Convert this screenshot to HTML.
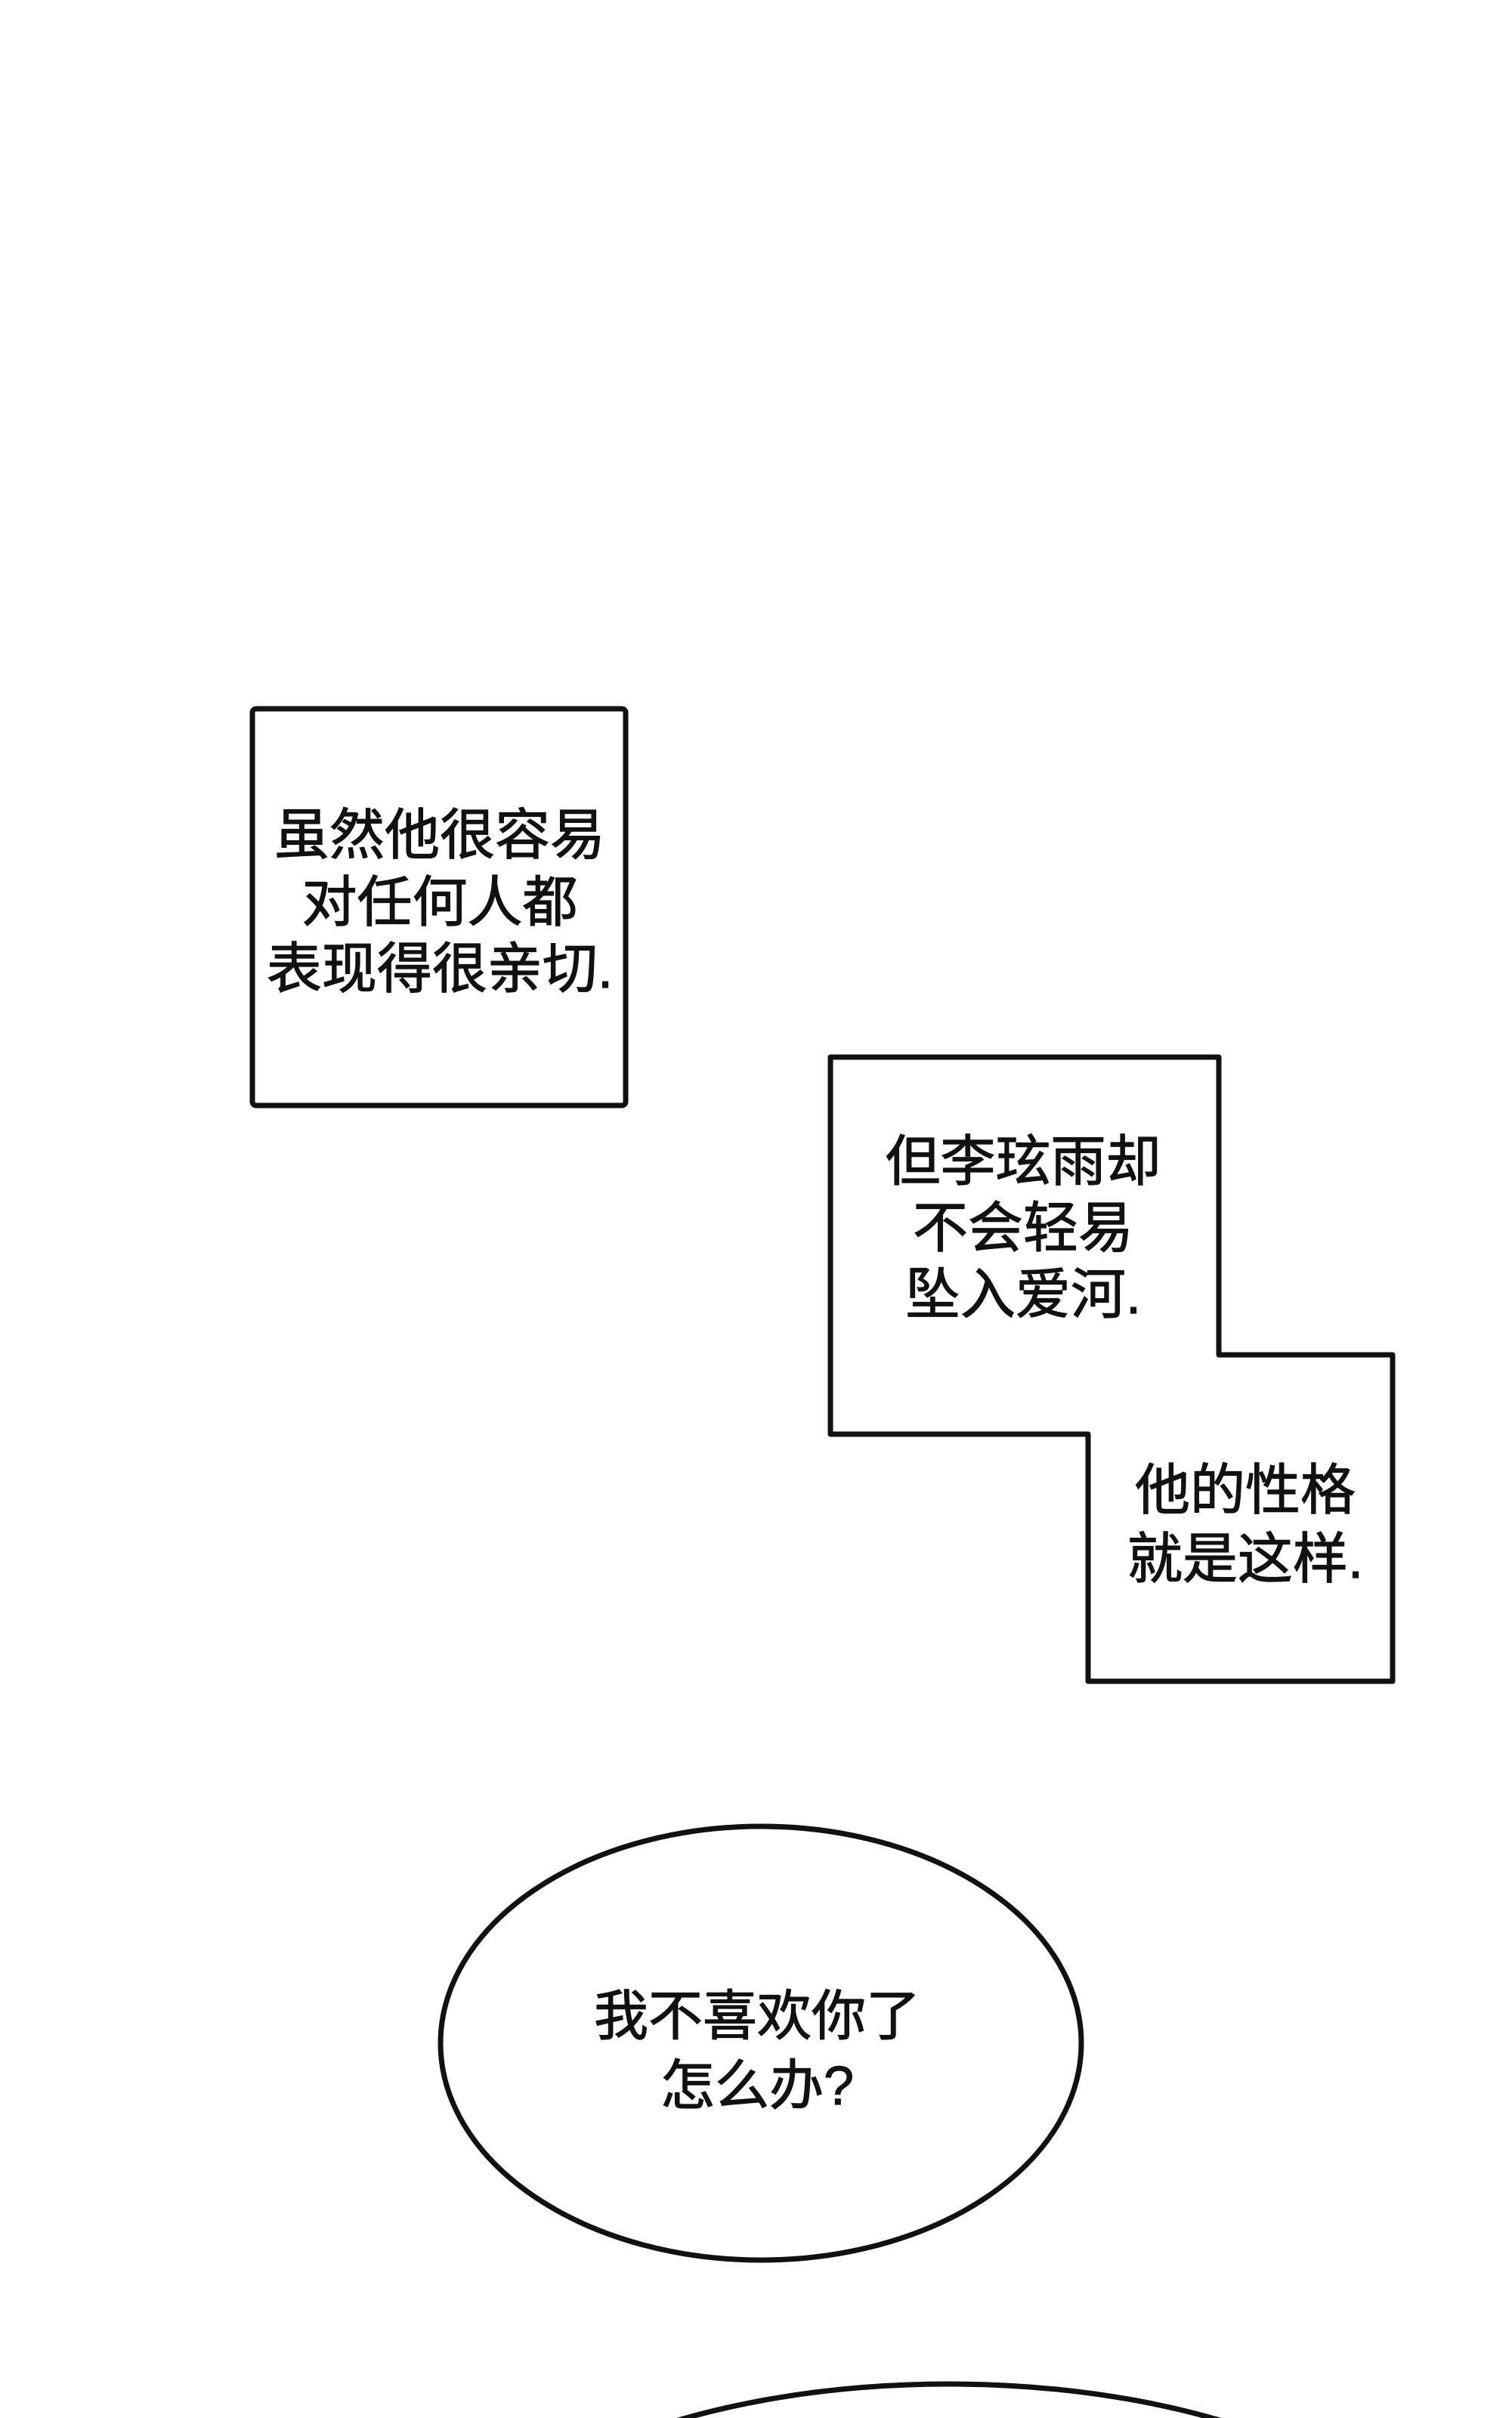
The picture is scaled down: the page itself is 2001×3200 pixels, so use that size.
<!DOCTYPE html>
<html><head><meta charset="utf-8"><style>
html,body{margin:0;padding:0;background:#fff;}
body{width:2001px;height:3200px;position:relative;overflow:hidden;}
svg{position:absolute;left:0;top:0;}
.t{font-family:"Liberation Sans","Noto Sans CJK SC",sans-serif;fill:#111;stroke:#111;stroke-width:1.2;text-anchor:middle;}
</style></head><body>
<svg width="2001" height="3200" viewBox="0 0 2001 3200">
<rect x="334" y="938" width="494" height="525" rx="5" fill="#fff" stroke="#111" stroke-width="7"/>
<text class="t" font-size="73" x="582" y="1130">虽然他很容易</text>
<text class="t" font-size="73" x="582" y="1219">对任何人都</text>
<text class="t" font-size="73" x="582" y="1307">表现得很亲切.</text>
<polygon points="1099,1399 1613,1399 1613,1793 1843,1793 1843,2225 1440,2225 1440,1898 1099,1898" fill="#fff" stroke="#111" stroke-width="7" stroke-linejoin="round"/>
<text class="t" font-size="73" x="1354" y="1562">但李玹雨却</text>
<text class="t" font-size="73" x="1354" y="1650">不会轻易</text>
<text class="t" font-size="73" x="1354" y="1738">坠入爱河.</text>
<text class="t" font-size="73" x="1648" y="1997">他的性格</text>
<text class="t" font-size="73" x="1648" y="2088">就是这样.</text>
<ellipse cx="1007" cy="2704" rx="424" ry="287" fill="#fff" stroke="#111" stroke-width="7"/>
<text class="t" font-size="72" x="1002" y="2693">我不喜欢你了</text>
<text class="t" font-size="72" x="1002" y="2785">怎么办?</text>
<ellipse cx="1256" cy="3445" rx="650" ry="290" fill="#fff" stroke="#111" stroke-width="7"/>
</svg>
</body></html>
